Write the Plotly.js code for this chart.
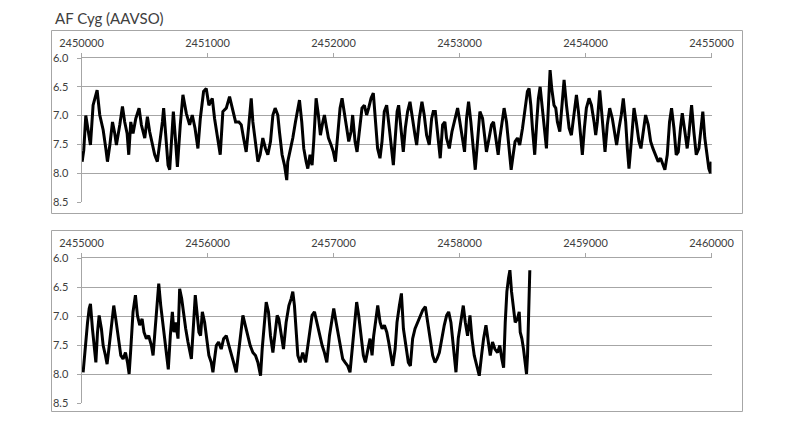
<!DOCTYPE html>
<html><head><meta charset="utf-8">
<script src="https://cdn.plot.ly/plotly-3.0.1.min.js"></script>
<style>html,body{margin:0;padding:0;background:#fff}#chart{width:799px;height:441px}</style>
</head><body><div id="chart"></div>
<script>
const chartTitle = "AF Cyg (AAVSO)";
const topBaseJD = 2450000;
const bottomBaseJD = 2455000;
// days after base JD, visual magnitude
const topDay = [5,18,34,53,71,92,124,145,172,193,206,225,246,264,277,304,325,343,362,375,391,409,431,457,475,502,523,541,562,581,602,621,642,652,668,687,700,713,729,745,761,784,805,832,858,879,901,924,943,969,990,1011,1038,1056,1083,1101,1122,1149,1175,1202,1223,
1249,1268,1286,1307,1328,1347,1360,1381,1400,1418,1439,1460,1479,1500,1519,1537,1558,1571,1592,1611,1624,1629,1637,1656,1677,1698,1717,1730,1748,1764,1783,1796,1814,1830,1843,1862,1880,1896,1915,1928,1941,1960,1981,1999,2015,2034,2052,2068,2086,2105,2121,2139,2152,2171,2187,2205,2226,2245,2263,2279,2298,2316,2332,2350,2369,2385,2403,2422,2443,2461,2475,2490,
2505,2517,2536,2554,2570,2588,2607,2628,2647,2660,2681,2702,2720,2739,2760,2779,2792,2808,2826,2847,2866,2884,2897,2919,2940,2966,2985,3003,3024,3040,3056,3072,3090,3109,3125,3143,3162,3183,3201,3214,3235,3254,3270,3288,3307,3320,3336,3354,3373,3394,3410,3426,3441,3460,3478,3500,3521,3539,3552,3566,3579,3597,3613,3626,3640,3658,3677,3690,3706,3719,3732,3750,
3764,3777,3796,3812,3830,3849,3870,3888,3909,3928,3944,3962,3975,3991,4007,4028,4047,4068,4081,4094,4113,4128,4142,4155,4173,4192,4213,4231,4247,4266,4284,4300,4319,4332,4345,4366,4385,4403,4424,4440,4459,4477,4498,4517,4535,4556,4577,4596,4614,4630,4649,4667,4683,4702,4720,4736,4754,4768,4789,4807,4820,4842,4860,4879,4900,4921,4931,4947,4966,4979,4992,4998];
const topMag = [7.80,7.60,7.00,7.31,7.51,6.82,6.56,6.99,7.25,7.57,7.80,7.51,7.11,7.31,7.51,7.16,6.84,7.11,7.31,7.68,7.11,7.31,7.05,6.87,7.16,7.39,7.02,7.28,7.48,7.68,7.80,7.51,7.11,6.87,7.39,7.86,7.94,7.45,6.93,7.39,7.89,7.16,6.64,6.96,7.16,6.99,7.22,7.57,7.05,6.58,6.53,6.82,6.70,7.05,7.39,7.68,6.93,6.87,6.67,6.93,7.11,
7.11,7.16,7.39,7.63,7.16,6.70,7.11,7.45,7.80,7.68,7.39,7.57,7.68,7.45,6.99,6.87,6.99,7.28,7.68,7.86,8.06,8.12,7.80,7.63,7.39,7.11,6.87,6.73,7.11,7.57,7.80,7.92,7.68,7.86,7.45,6.70,6.99,7.34,7.11,6.99,7.16,7.39,7.51,7.63,7.80,7.28,6.87,6.70,6.99,7.22,7.45,7.28,6.99,7.45,7.63,7.28,6.87,6.82,6.99,6.87,6.70,6.61,7.11,7.57,7.74,7.45,6.93,6.82,7.22,7.57,7.86,7.39,
6.93,6.82,7.28,7.63,7.22,6.93,6.76,7.11,7.34,7.51,7.05,6.76,6.99,7.34,7.51,7.05,6.93,6.93,7.34,7.74,7.16,7.11,7.39,7.57,7.28,7.05,6.87,7.11,7.45,7.63,7.05,6.76,7.11,7.57,7.94,7.45,6.93,7.05,7.39,7.63,7.39,7.16,7.11,7.39,7.68,7.39,7.11,6.87,7.11,7.57,7.94,7.68,7.45,7.39,7.51,7.22,6.87,6.58,6.53,6.82,7.22,7.68,7.11,6.70,6.50,6.93,7.39,7.57,6.82,6.21,6.53,6.82,
6.87,7.11,7.28,6.82,6.38,6.82,7.22,7.34,6.93,6.64,6.93,7.34,7.68,7.22,6.87,6.70,6.82,7.11,7.34,7.11,6.56,6.93,7.34,7.63,7.16,6.87,7.05,7.28,7.51,7.22,6.99,6.70,7.11,7.57,7.92,7.39,6.87,7.11,7.45,7.57,7.28,6.99,7.16,7.45,7.57,7.68,7.80,7.74,7.86,7.94,7.68,7.11,6.87,7.22,7.68,7.63,7.22,6.96,7.28,7.57,7.34,6.82,7.28,7.68,7.57,7.11,6.93,7.39,7.68,7.92,8.00,7.80];
const bottomDay = [13,24,34,48,61,71,87,100,114,127,140,158,172,190,203,217,238,256,272,291,312,330,349,365,378,391,409,428,444,462,481,496,515,533,555,568,586,600,613,629,642,660,673,689,705,721,734,747,766,779,795,811,827,845,858,872,890,903,916,932,945,959,977,996,1011,1030,1043,1056,1070,1088,1109,1128,
1149,1170,1189,1207,1228,1247,1263,1281,1300,1321,1339,1360,1381,1400,1421,1434,1453,1466,1484,1500,1519,1540,1553,1566,1585,1603,1624,1646,1664,1677,1690,1704,1717,1735,1756,1778,1796,1815,1830,1849,1867,1888,1910,1928,1947,1968,1986,2002,2021,2042,2060,2073,2092,2113,2131,2147,2166,2184,2200,2219,2237,2253,2271,2290,2306,2319,2337,
2351,2370,2386,2404,2423,2438,2457,2470,2489,2504,2523,2539,2555,2576,2594,2610,2628,2647,2668,2687,2708,2729,2747,2766,2787,2805,2821,2840,2858,2879,2898,2914,2932,2945,2959,2972,2990,3011,3030,3046,3064,3083,3099,3117,3136,3157,3175,3191,3210,3228,3244,3262,3281,3302,3320,3336,3350,3363,3376,3389,3400,3413,3426,3442,3460,3474,3482,3495,3508,3521,3532,3540,3548,3558];
const bottomMag = [7.97,7.68,7.45,7.11,6.87,6.79,7.22,7.57,7.80,7.28,6.99,7.22,7.51,7.68,7.83,7.57,7.11,6.82,7.05,7.39,7.68,7.74,7.63,7.80,8.00,7.57,6.93,6.64,6.99,7.16,7.05,7.28,7.39,7.34,7.51,7.68,7.11,6.70,6.44,6.82,7.11,7.39,7.63,7.92,7.34,6.93,7.28,7.11,7.39,6.53,6.70,6.99,7.22,7.45,7.57,7.74,7.11,6.64,6.93,7.28,7.34,6.93,7.11,7.45,7.68,7.80,7.97,7.74,7.51,7.45,7.57,7.39,
7.34,7.51,7.68,7.80,7.97,7.63,7.28,6.99,7.16,7.34,7.51,7.63,7.68,7.80,8.03,7.57,7.11,6.76,6.93,7.34,7.63,7.22,6.99,7.05,7.34,7.57,7.11,6.82,6.70,6.58,6.82,7.22,7.68,7.80,7.63,7.80,7.51,7.16,6.99,6.93,7.11,7.34,7.51,7.63,7.80,7.34,7.05,6.87,7.11,7.34,7.57,7.74,7.80,7.86,7.97,7.57,7.11,6.76,6.99,7.39,7.68,7.80,7.57,7.39,7.68,7.34,7.05,
6.82,7.11,7.22,7.16,7.28,7.45,7.68,7.86,7.57,7.11,6.82,6.61,7.22,7.51,7.80,7.86,7.39,7.22,7.11,6.99,6.90,6.84,7.11,7.45,7.68,7.80,7.74,7.63,7.39,7.16,6.99,6.93,7.11,7.39,7.68,7.97,7.39,7.05,6.82,7.11,7.34,6.99,7.39,7.68,7.86,8.03,7.68,7.39,7.16,7.45,7.68,7.45,7.57,7.63,7.51,7.74,7.89,7.11,6.58,6.35,6.21,6.58,6.82,7.11,7.05,6.93,7.28,7.39,7.57,7.86,8.00,7.68,6.82,6.21];
const yTicks = [6.0, 6.5, 7.0, 7.5, 8.0, 8.5];
const topXTicks = [2450000, 2451000, 2452000, 2453000, 2454000, 2455000];
const bottomXTicks = [2455000, 2456000, 2457000, 2458000, 2459000, 2460000];

const W = 799, H = 441;
const px = v => v / W, py = v => 1 - v / H;
const fontFam = "Lato, 'Open Sans', sans-serif";
const gray = '#a6a6a6';
const txt = '#404040';

const lineStyle = {color: '#000000', width: 3};
const traces = [
  {x: topDay.map(d => topBaseJD + d), y: topMag, type: 'scatter', mode: 'lines', line: lineStyle, xaxis: 'x', yaxis: 'y', hoverinfo: 'x+y'},
  {x: bottomDay.map(d => bottomBaseJD + d), y: bottomMag, type: 'scatter', mode: 'lines', line: lineStyle, xaxis: 'x2', yaxis: 'y2', hoverinfo: 'x+y'}
];

function xAx(ticks, anchor, range) {
  return {
    domain: [px(81.5), px(711.5)], anchor: anchor, side: 'top', range: range,
    tickmode: 'array', tickvals: ticks, ticktext: ticks.map(String),
    showgrid: false, zeroline: false, showline: true, linecolor: gray, linewidth: 1,
    ticks: 'outside', ticklen: 4, tickcolor: gray, tickfont: {family: fontFam, size: 11, color: txt},
    ticklabelstandoff: 2
  };
}
function yAx(anchor, top, bottom) {
  return {
    domain: [py(bottom), py(top)], anchor: anchor, range: [8.5, 6.0],
    tickmode: 'array', tickvals: yTicks, ticktext: yTicks.map(v => v.toFixed(1)),
    showgrid: true, gridcolor: gray, gridwidth: 1, zeroline: false,
    showline: true, linecolor: gray, linewidth: 1,
    ticks: 'outside', ticklen: 4, tickcolor: gray, tickfont: {family: fontFam, size: 11, color: txt},
    ticklabelstandoff: 6
  };
}

const layout = {
  width: W, height: H,
  margin: {l: 0, r: 0, t: 0, b: 0, pad: 0},
  paper_bgcolor: '#ffffff', plot_bgcolor: '#ffffff',
  showlegend: false,
  title: {text: chartTitle, x: px(55), xanchor: 'left', xref: 'container', y: py(19), yanchor: 'middle', yref: 'container',
          font: {family: fontFam, size: 15, color: txt}},
  xaxis: xAx(topXTicks, 'y', [2450000, 2455000]),
  yaxis: yAx('x', 58, 202),
  xaxis2: xAx(bottomXTicks, 'y2', [2455000, 2460000]),
  yaxis2: yAx('x2', 258, 403),
  shapes: [
    {type: 'rect', xref: 'paper', yref: 'paper', x0: px(51.5), x1: px(742.5), y0: py(213.5), y1: py(30.5), line: {color: gray, width: 1}, layer: 'below'},
    {type: 'rect', xref: 'paper', yref: 'paper', x0: px(51.5), x1: px(742.5), y0: py(411.5), y1: py(230.5), line: {color: gray, width: 1}, layer: 'below'}
  ]
};

Plotly.newPlot('chart', traces, layout, {staticPlot: true, displayModeBar: false});
</script>
</body></html>
